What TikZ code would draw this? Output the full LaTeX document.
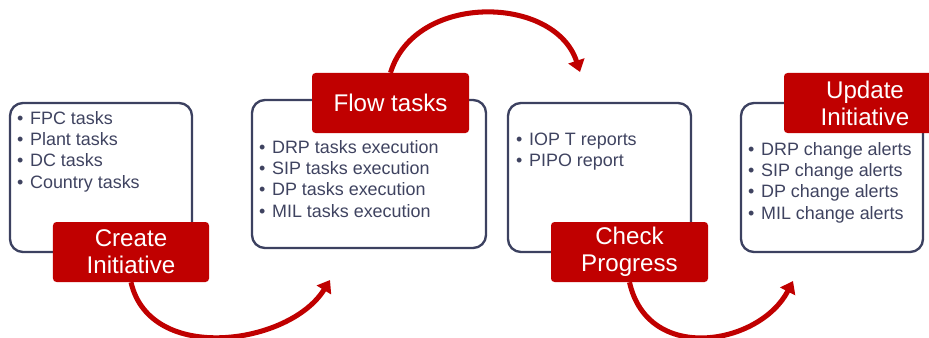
\documentclass[tikz,border=0pt]{standalone}
\usepackage{fontspec}
\setmainfont{Liberation Sans}
\usetikzlibrary{arrows.meta}

\definecolor{panelline}{HTML}{3C4160}
\definecolor{itemtext}{HTML}{3F4360}
\definecolor{stepred}{HTML}{C00000}

\newcommand{\itembullet}{\makebox[11pt][l]{•}}

\tikzset{
  panel/.style={draw=panelline, line width=2pt, fill=white, rounded corners=11pt, inner sep=0pt},
  steplabel/.style={fill=stepred, text=white, rounded corners=3pt, inner sep=0pt,
    minimum height=1.8cm, align=center, font=\fontsize{20.6}{23}\selectfont},
  item/.style={text=itemtext, inner sep=0pt, anchor=base west, font=\fontsize{15.3}{17}\selectfont},
  flow/.style={draw=stepred, line width=4.3pt, -{Triangle[length=10pt,width=14pt]}},
}

\begin{document}
\begin{tikzpicture}[x=0.03cm, y=-0.03cm]
  \useasboundingbox (0,0) rectangle (929,338);
  \clip (0,0) rectangle (929,338);

  % white panels
  \node[panel, minimum width=5.46cm, minimum height=4.47cm] (createbox) at (101,177.5) {};
  \node[panel, minimum width=7.02cm, minimum height=4.44cm] (flowbox) at (369,174) {};
  \node[panel, minimum width=5.49cm, minimum height=4.47cm] (checkbox) at (599.5,177.5) {};
  \node[panel, minimum width=5.46cm, minimum height=4.47cm] (updatebox) at (832,177.5) {};

  % bullet lists
  \foreach \t [count=\i] in {FPC tasks, Plant tasks, DC tasks, Country tasks}
    \node[item] (createitem-\i) at (17,{124+21.4*(\i-1)}) {\itembullet\t};
  \foreach \t [count=\i] in {DRP tasks execution, SIP tasks execution, DP tasks execution, MIL tasks execution}
    \node[item] (flowitem-\i) at (259,{153+21.4*(\i-1)}) {\itembullet\t};
  \foreach \t [count=\i] in {IOP T reports, PIPO report}
    \node[item] (checkitem-\i) at (516,{145+21.4*(\i-1)}) {\itembullet\t};
  \foreach \t [count=\i] in {DRP change alerts, SIP change alerts, DP change alerts, MIL change alerts}
    \node[item] (updateitem-\i) at (748,{155+21.4*(\i-1)}) {\itembullet\t};

  % red step labels
  \node[steplabel, minimum width=4.68cm] (create) at (131,252) {Create\\Initiative};
  \node[steplabel, minimum width=4.71cm] (flow) at (390.5,103) {Flow\ tasks};
  \node[steplabel, minimum width=4.71cm] (check) at (629.5,252) {Check\\Progress};
  \node[steplabel, minimum width=4.86cm] (update) at (865,103) {Update\\Initiative};

  % curved arrows
  \coordinate (flowin) at (330,280);
  \coordinate (checkin) at (580,72);
  \coordinate (updatein) at (793,281);
  \draw[flow] (create.south) .. controls (150,365) and (290,345) .. (flowin);
  \draw[flow] (flow.north) .. controls (415,-8) and (555,-5) .. (checkin);
  \draw[flow] (check.south) .. controls (648,365) and (760,345) .. (updatein);
\end{tikzpicture}
\end{document}
